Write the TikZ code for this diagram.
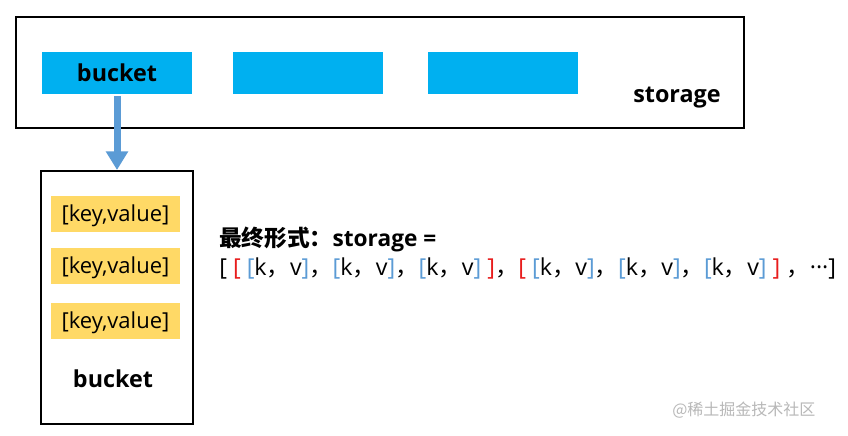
\documentclass[tikz,border=0pt]{standalone}
\usepackage{fontspec}
\setmainfont{Open Sans}
\newfontfamily\cjk{Noto Sans CJK SC}
\usetikzlibrary{arrows.meta}
\definecolor{bktblue}{HTML}{00B0F0}
\definecolor{kvyellow}{HTML}{FFD966}
\definecolor{arrblue}{HTML}{5B9BD5}
\definecolor{brred}{HTML}{E81C1C}
\definecolor{wmgray}{HTML}{B8B8B8}
\newcommand\rbr[1]{\textcolor{brred}{#1}}
\newcommand\bbr[1]{\textcolor{arrblue}{#1}}
\newcommand\fc{{\cjk ，}}
\newcommand\kv{\bbr{[}k\fc v\bbr{]}}
\begin{document}
\begin{tikzpicture}[x=0.75pt,y=-0.75pt,
  frame/.style={draw=black,line width=1.5pt,minimum width=#1*0.75pt},
  bktcell/.style={fill=bktblue,inner sep=0pt,minimum width=112.5pt,minimum height=31.5pt,font=\fontsize{17.5}{20}\selectfont\bfseries},
  kvcell/.style={fill=kvyellow,inner sep=0pt,minimum width=96.75pt,minimum height=27pt,font=\fontsize{16.5}{19}\selectfont},
  kvtext/.style={inner sep=0pt,font=\fontsize{16.5}{19}\selectfont},
  lbl/.style={inner sep=0pt,font=\fontsize{17.5}{20}\selectfont\bfseries},
  formula/.style={inner sep=0pt,anchor=west,font=\fontsize{17.5}{20}\selectfont}]
\useasboundingbox[fill=white] (0,0) rectangle (848,435);
% storage
\node[frame=728,minimum height=83.25pt] (storage) at (380,72.5) {};
\node[bktcell] (b1) at (117,73) {bucket};
\node[bktcell] (b2) at (308,73) {};
\node[bktcell] (b3) at (503,73) {};
\node[lbl] (storagelbl) at (677,98) {storage};
% bucket detail
\node[frame=152,minimum height=189.75pt] (bk) at (117,297.5) {};
\node[kvcell] (kv1) at (115.5,214) {};
\node[kvcell] (kv2) at (115.5,266) {};
\node[kvcell] (kv3) at (115.5,321) {};
\node[kvtext] (kt1) at ([yshift=-1.5pt]kv1.center) {[key,value]};
\node[kvtext] (kt2) at ([yshift=-1.5pt]kv2.center) {[key,value]};
\node[kvtext] (kt3) at ([yshift=-1.5pt]kv3.center) {[key,value]};
\node[lbl] (bklbl) at (113,379) {bucket};
% arrow
\draw[arrblue,line width=5.25pt,-{Triangle[width=16pt,length=14pt]}] ([yshift=-1.5pt]b1.south) -- (bk.north);
% formula
\node[formula,font=\fontsize{17}{20}\selectfont\bfseries] (f1) at (219,239) {{\cjk 最终形式：}storage =};
\node[formula] (f2) at (219,268) {[ \rbr{[} \kv\fc\kv\fc\kv\ \rbr{]}\fc\rbr{[} \kv\fc\kv\fc\kv\ \rbr{]} \fc···]};
% watermark
\node[inner sep=0pt,anchor=west,text=wmgray,font=\cjk\fontsize{12}{14}\selectfont] (wm) at (672,410) {@稀土掘金技术社区};
\end{tikzpicture}
\end{document}
